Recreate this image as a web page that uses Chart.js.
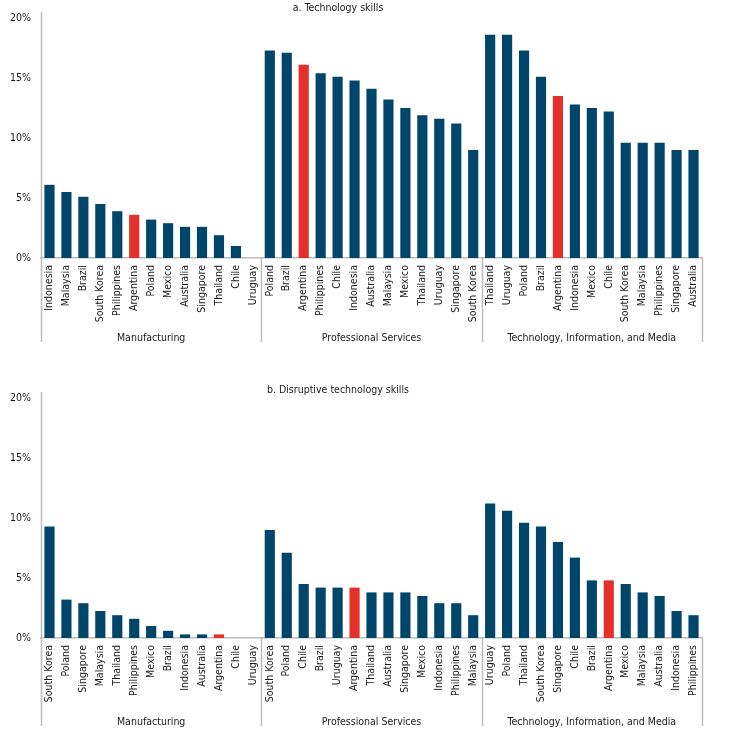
<!DOCTYPE html>
<html>
<head>
<meta charset="utf-8">
<script src="https://cdn.jsdelivr.net/npm/chart.js@4.4.1/dist/chart.umd.min.js"></script>
<style>
  body { margin: 0; background: #fff; width: 754px; height: 746px; position: relative; overflow: hidden; }
  canvas { position: absolute; left: 0; }
  #chartA { top: 0; }
  #chartB { top: 380px; }
</style>
</head>
<body>
<canvas id="chartA" width="754" height="350"></canvas>
<canvas id="chartB" width="754" height="354"></canvas>
<script>
// sectors shown under the category axis
const sectors = ['Manufacturing', 'Professional Services', 'Technology, Information, and Media'];

// a. Technology skills (share, %)
const techManufCountries = ['Indonesia', 'Malaysia', 'Brazil', 'South Korea', 'Philippines', 'Argentina', 'Poland', 'Mexico', 'Australia', 'Singapore', 'Thailand', 'Chile', 'Uruguay'];
const techManufValues = [6.1, 5.5, 5.1, 4.5, 3.9, 3.6, 3.2, 2.9, 2.6, 2.6, 1.9, 1.0, 0];
const techProfCountries = ['Poland', 'Brazil', 'Argentina', 'Philippines', 'Chile', 'Indonesia', 'Australia', 'Malaysia', 'Mexico', 'Thailand', 'Uruguay', 'Singapore', 'South Korea'];
const techProfValues = [17.3, 17.1, 16.1, 15.4, 15.1, 14.8, 14.1, 13.2, 12.5, 11.9, 11.6, 11.2, 9.0];
const techTimCountries = ['Thailand', 'Uruguay', 'Poland', 'Brazil', 'Argentina', 'Indonesia', 'Mexico', 'Chile', 'South Korea', 'Malaysia', 'Philippines', 'Singapore', 'Australia'];
const techTimValues = [18.6, 18.6, 17.3, 15.1, 13.5, 12.8, 12.5, 12.2, 9.6, 9.6, 9.6, 9.0, 9.0];

// b. Disruptive technology skills (share, %)
const disManufCountries = ['South Korea', 'Poland', 'Singapore', 'Malaysia', 'Thailand', 'Philippines', 'Mexico', 'Brazil', 'Indonesia', 'Australia', 'Argentina', 'Chile', 'Uruguay'];
const disManufValues = [9.3, 3.2, 2.9, 2.25, 1.9, 1.6, 1.0, 0.6, 0.3, 0.3, 0.3, 0, 0];
const disProfCountries = ['South Korea', 'Poland', 'Chile', 'Brazil', 'Uruguay', 'Argentina', 'Thailand', 'Australia', 'Singapore', 'Mexico', 'Indonesia', 'Philippines', 'Malaysia'];
const disProfValues = [9.0, 7.1, 4.5, 4.2, 4.2, 4.2, 3.8, 3.8, 3.8, 3.5, 2.9, 2.9, 1.9];
const disTimCountries = ['Uruguay', 'Poland', 'Thailand', 'South Korea', 'Singapore', 'Chile', 'Brazil', 'Argentina', 'Mexico', 'Malaysia', 'Australia', 'Indonesia', 'Philippines'];
const disTimValues = [11.2, 10.6, 9.6, 9.3, 8.0, 6.7, 4.8, 4.8, 4.5, 3.8, 3.5, 2.25, 1.9];

const yTicks = [0, 5, 10, 15, 20];

const NAVY = '#00466a';
const RED = '#e4302a';
const AXIS = '#bdbdbd';
const FONT = "'DejaVu Sans Condensed', 'DejaVu Sans', sans-serif";

// draws the sector separators, sector names and the panel title
const sectorAxis = {
    id: 'sectorAxis',
    afterDraw(chart, args, opts) {
        const ctx = chart.ctx;
        const x = chart.scales.x;
        const bottom = chart.chartArea.bottom;
        const counts = opts.counts;
        ctx.save();
        ctx.strokeStyle = AXIS;
        ctx.lineWidth = 1.5;
        let start = 0;
        const edges = [-0.5];
        counts.forEach(c => { start += c; edges.push(start - 0.5); });
        edges.forEach((e, i) => {
            const px = Math.round(x.getPixelForValue(e)) + 0.5;
            ctx.beginPath();
            ctx.moveTo(px, i === 0 ? chart.chartArea.top - 6 : bottom);
            ctx.lineTo(px, bottom + opts.sepLen);
            ctx.stroke();
        });
        ctx.fillStyle = '#1a1a1a';
        ctx.font = '10.5px ' + FONT;
        ctx.textAlign = 'center';
        ctx.textBaseline = 'middle';
        sectors.forEach((s, i) => {
            const mid = (x.getPixelForValue(edges[i]) + x.getPixelForValue(edges[i + 1])) / 2;
            ctx.fillText(s, mid, bottom + opts.sepLen - 4);
        });
        ctx.fillText(opts.title, 338, opts.titleY);
        ctx.restore();
    }
};

function makeChart(id, title, titleY, sepLen, groups) {
    const labels = [].concat(...groups.map(g => g[0]));
    const values = [].concat(...groups.map(g => g[1]));
    return new Chart(document.getElementById(id), {
        type: 'bar',
        data: {
            labels: labels,
            datasets: [{
                data: values,
                backgroundColor: labels.map(l => l === 'Argentina' ? RED : NAVY),
                barPercentage: 0.6,
                categoryPercentage: 1.0
            }]
        },
        options: {
            responsive: false,
            animation: false,
            devicePixelRatio: 1,
            layout: { padding: { top: 18, right: 52, left: 0, bottom: 0 } },
            plugins: {
                legend: { display: false },
                tooltip: { enabled: false },
                sectorAxis: { counts: groups.map(g => g[0].length), title: title, titleY: titleY, sepLen: sepLen }
            },
            scales: {
                x: {
                    grid: { display: false, drawTicks: false },
                    border: { display: true, color: AXIS, width: 1.5 },
                    ticks: {
                        autoSkip: false,
                        minRotation: 90,
                        maxRotation: 90,
                        padding: 7,
                        color: '#1a1a1a',
                        font: { family: FONT, size: 10.5 }
                    },
                    afterFit(scale) { scale.height = sepLen + 8; }
                },
                y: {
                    min: 0,
                    max: 20,
                    afterBuildTicks(scale) { scale.ticks = yTicks.map(v => ({ value: v })); },
                    grid: { display: false, drawTicks: false },
                    border: { display: false },
                    ticks: {
                        padding: 10,
                        color: '#1a1a1a',
                        font: { family: FONT, size: 10.5 },
                        callback: v => v + '%'
                    },
                    afterFit(scale) { scale.width = 41; }
                }
            }
        },
        plugins: [sectorAxis]
    });
}

makeChart('chartA', 'a. Technology skills', 8, 84, [
    [techManufCountries, techManufValues],
    [techProfCountries, techProfValues],
    [techTimCountries, techTimValues]
]);

makeChart('chartB', 'b. Disruptive technology skills', 10, 88, [
    [disManufCountries, disManufValues],
    [disProfCountries, disProfValues],
    [disTimCountries, disTimValues]
]);
</script>
</body>
</html>
